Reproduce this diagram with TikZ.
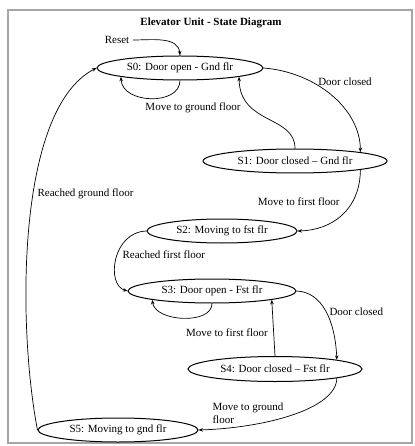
\documentclass[tikz,border=0pt]{standalone}
\usepackage{fontspec}
\setmainfont{Liberation Serif}
\usetikzlibrary{shapes.geometric,arrows.meta}

\begin{document}
\begin{tikzpicture}[x=1pt,y=-1pt,
  every node/.style={font=\fontsize{11}{13}\selectfont},
  state/.style={ellipse,draw,line width=1pt,inner sep=0pt,minimum height=24pt},
  trans/.style={->,line width=0.7pt},
  >={Stealth[length=4.5pt,width=3.5pt]}]
\useasboundingbox (0,0) rectangle (414,446);
\draw [gray!70,line width=1.2pt] (8,10) rectangle (412,443);
\node [font=\bfseries\fontsize{11}{13}\selectfont] (title) at (211,23) {Elevator Unit - State Diagram};
\node (reset) at (117,40) {Reset};
\begin{scope}[nodes={state}] % the six states
\node [minimum width=166pt] (s0) at (180,68) {S0: Door open - Gnd flr};
\node [minimum width=184pt] (s1) at (295,161) {S1: Door closed \textendash{} Gnd flr};
\node [minimum width=150pt] (s2) at (222,231) {S2: Moving to fst flr};
\node [minimum width=168pt] (s3) at (212,291) {S3: Door open - Fst flr};
\node [minimum width=174pt,minimum height=25pt] (s4) at (275,369) {S4: Door closed \textendash{} Fst flr};
\node [minimum width=160pt] (s5) at (118,430) {S5: Moving to gnd flr};
\end{scope}
\draw [trans] (reset.east) to[out=0,in=95] (s0.north);
\draw [trans] (s0.south) .. controls (180,106) and (122,104) .. (s0.south west);
\node (l0) at (193,108) {Move to ground floor};
\draw [trans] (s0.east) .. controls (315,72) and (360,108) .. (s1.north east);
\node (l1) at (345,82) {Door closed};
\draw [trans] (s1.north) .. controls (295,115) and (240,125) .. (s0.south east);
\draw [trans] (s1.south east) .. controls (360,210) and (332,230) .. (s2.east);
\node [anchor=east] (l2) at (343,202) {Move to first floor};
\draw [trans] (s2.west) .. controls (112,232) and (106,285) .. (s3.west);
\node [anchor=west] (l3) at (119,255) {Reached first floor};
\draw [trans] (s3.south) .. controls (212,325) and (155,322) .. (s3.south west);
\node (l4) at (227,333) {Move to first floor};
\draw [trans] (s4.north) -- (s3.south east);
\draw [trans] (s3.east) .. controls (322,292) and (335,320) .. (s4.north east);
\node [anchor=west] (l5) at (326,312) {Door closed};
\draw [trans] (s4.south east) .. controls (336,410) and (262,428) .. (s5.east);
\node [anchor=north west,align=left] (l6) at (209,399) {Move to ground\\floor};
\draw [trans] (s5.west) .. controls (18,330) and (15,110) .. (s0.west);
\node [anchor=west] (l7) at (34,194) {Reached ground floor};
\end{tikzpicture}
\end{document}
